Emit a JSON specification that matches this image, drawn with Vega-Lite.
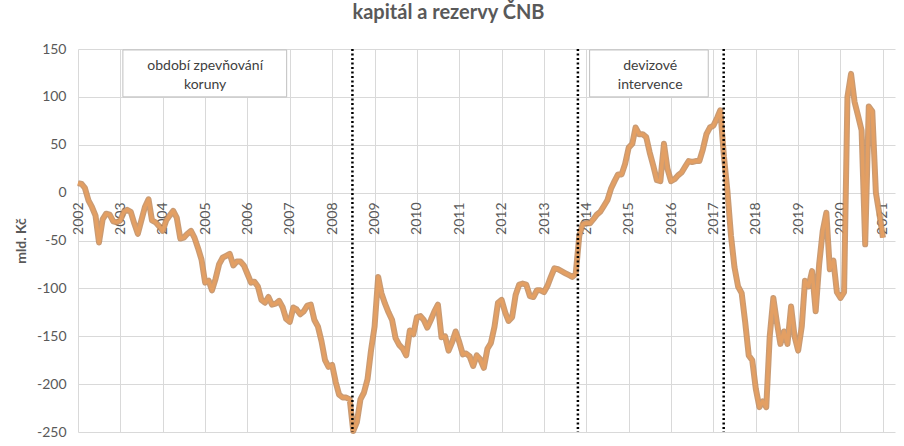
{
  "$schema": "https://vega.github.io/schema/vega-lite/v6.json",
  "width": 817,
  "height": 383,
  "autosize": "none",
  "padding": {"left": 78, "top": 49, "right": 9, "bottom": 14},
  "background": "white",
  "config": {"view": {"stroke": null}, "font": "Lato"},
  "title": {"text": "kapitál a rezervy ČNB", "font": "Lato", "fontSize": 20, "fontWeight": "bold", "color": "#595959", "anchor": "middle", "dx": -38, "offset": 19},
  "datasets": {
    "series": [
      {"d":"2002-01-01","v":10},{"d":"2002-02-01","v":9},{"d":"2002-03-01","v":5},{"d":"2002-04-01","v":-8},{"d":"2002-05-01","v":-15},{"d":"2002-06-01","v":-24},{"d":"2002-07-01","v":-52},{"d":"2002-08-01","v":-28},{"d":"2002-09-01","v":-22},{"d":"2002-10-01","v":-23},{"d":"2002-11-01","v":-30},{"d":"2002-12-01","v":-31},
      {"d":"2003-01-01","v":-29},{"d":"2003-02-01","v":-20},{"d":"2003-03-01","v":-18},{"d":"2003-04-01","v":-20},{"d":"2003-05-01","v":-32},{"d":"2003-06-01","v":-43},{"d":"2003-07-01","v":-29},{"d":"2003-08-01","v":-15},{"d":"2003-09-01","v":-7},{"d":"2003-10-01","v":-29},{"d":"2003-11-01","v":-31},{"d":"2003-12-01","v":-35},
      {"d":"2004-01-01","v":-40},{"d":"2004-02-01","v":-29},{"d":"2004-03-01","v":-24},{"d":"2004-04-01","v":-19},{"d":"2004-05-01","v":-26},{"d":"2004-06-01","v":-48},{"d":"2004-07-01","v":-47},{"d":"2004-08-01","v":-43},{"d":"2004-09-01","v":-40},{"d":"2004-10-01","v":-47},{"d":"2004-11-01","v":-58},{"d":"2004-12-01","v":-70},
      {"d":"2005-01-01","v":-94},{"d":"2005-02-01","v":-92},{"d":"2005-03-01","v":-102},{"d":"2005-04-01","v":-90},{"d":"2005-05-01","v":-75},{"d":"2005-06-01","v":-68},{"d":"2005-07-01","v":-66},{"d":"2005-08-01","v":-64},{"d":"2005-09-01","v":-76},{"d":"2005-10-01","v":-72},{"d":"2005-11-01","v":-72},{"d":"2005-12-01","v":-76},
      {"d":"2006-01-01","v":-85},{"d":"2006-02-01","v":-94},{"d":"2006-03-01","v":-93},{"d":"2006-04-01","v":-98},{"d":"2006-05-01","v":-112},{"d":"2006-06-01","v":-115},{"d":"2006-07-01","v":-109},{"d":"2006-08-01","v":-117},{"d":"2006-09-01","v":-116},{"d":"2006-10-01","v":-113},{"d":"2006-11-01","v":-120},{"d":"2006-12-01","v":-132},
      {"d":"2007-01-01","v":-135},{"d":"2007-02-01","v":-120},{"d":"2007-03-01","v":-122},{"d":"2007-04-01","v":-127},{"d":"2007-05-01","v":-124},{"d":"2007-06-01","v":-118},{"d":"2007-07-01","v":-117},{"d":"2007-08-01","v":-133},{"d":"2007-09-01","v":-140},{"d":"2007-10-01","v":-155},{"d":"2007-11-01","v":-175},{"d":"2007-12-01","v":-182},
      {"d":"2008-01-01","v":-180},{"d":"2008-02-01","v":-198},{"d":"2008-03-01","v":-211},{"d":"2008-04-01","v":-214},{"d":"2008-05-01","v":-214},{"d":"2008-06-01","v":-216},{"d":"2008-07-01","v":-249},{"d":"2008-08-01","v":-240},{"d":"2008-09-01","v":-216},{"d":"2008-10-01","v":-209},{"d":"2008-11-01","v":-195},{"d":"2008-12-01","v":-165},
      {"d":"2009-01-01","v":-140},{"d":"2009-02-01","v":-88},{"d":"2009-03-01","v":-105},{"d":"2009-04-01","v":-116},{"d":"2009-05-01","v":-125},{"d":"2009-06-01","v":-133},{"d":"2009-07-01","v":-152},{"d":"2009-08-01","v":-159},{"d":"2009-09-01","v":-163},{"d":"2009-10-01","v":-170},{"d":"2009-11-01","v":-144},{"d":"2009-12-01","v":-148},
      {"d":"2010-01-01","v":-130},{"d":"2010-02-01","v":-129},{"d":"2010-03-01","v":-133},{"d":"2010-04-01","v":-141},{"d":"2010-05-01","v":-133},{"d":"2010-06-01","v":-124},{"d":"2010-07-01","v":-117},{"d":"2010-08-01","v":-151},{"d":"2010-09-01","v":-150},{"d":"2010-10-01","v":-165},{"d":"2010-11-01","v":-156},{"d":"2010-12-01","v":-145},
      {"d":"2011-01-01","v":-156},{"d":"2011-02-01","v":-169},{"d":"2011-03-01","v":-168},{"d":"2011-04-01","v":-171},{"d":"2011-05-01","v":-181},{"d":"2011-06-01","v":-170},{"d":"2011-07-01","v":-174},{"d":"2011-08-01","v":-183},{"d":"2011-09-01","v":-163},{"d":"2011-10-01","v":-157},{"d":"2011-11-01","v":-140},{"d":"2011-12-01","v":-115},
      {"d":"2012-01-01","v":-112},{"d":"2012-02-01","v":-125},{"d":"2012-03-01","v":-134},{"d":"2012-04-01","v":-130},{"d":"2012-05-01","v":-107},{"d":"2012-06-01","v":-96},{"d":"2012-07-01","v":-95},{"d":"2012-08-01","v":-96},{"d":"2012-09-01","v":-108},{"d":"2012-10-01","v":-109},{"d":"2012-11-01","v":-102},{"d":"2012-12-01","v":-102},
      {"d":"2013-01-01","v":-104},{"d":"2013-02-01","v":-97},{"d":"2013-03-01","v":-88},{"d":"2013-04-01","v":-79},{"d":"2013-05-01","v":-80},{"d":"2013-06-01","v":-82},{"d":"2013-07-01","v":-84},{"d":"2013-08-01","v":-86},{"d":"2013-09-01","v":-88},{"d":"2013-10-01","v":-85},{"d":"2013-11-01","v":-45},{"d":"2013-12-01","v":-33},
      {"d":"2014-01-01","v":-32},{"d":"2014-02-01","v":-32},{"d":"2014-03-01","v":-28},{"d":"2014-04-01","v":-23},{"d":"2014-05-01","v":-20},{"d":"2014-06-01","v":-14},{"d":"2014-07-01","v":-8},{"d":"2014-08-01","v":4},{"d":"2014-09-01","v":12},{"d":"2014-10-01","v":19},{"d":"2014-11-01","v":19},{"d":"2014-12-01","v":30},
      {"d":"2015-01-01","v":47},{"d":"2015-02-01","v":51},{"d":"2015-03-01","v":68},{"d":"2015-04-01","v":61},{"d":"2015-05-01","v":61},{"d":"2015-06-01","v":58},{"d":"2015-07-01","v":42},{"d":"2015-08-01","v":28},{"d":"2015-09-01","v":13},{"d":"2015-10-01","v":12},{"d":"2015-11-01","v":51},{"d":"2015-12-01","v":25},
      {"d":"2016-01-01","v":12},{"d":"2016-02-01","v":14},{"d":"2016-03-01","v":18},{"d":"2016-04-01","v":21},{"d":"2016-05-01","v":27},{"d":"2016-06-01","v":33},{"d":"2016-07-01","v":32},{"d":"2016-08-01","v":33},{"d":"2016-09-01","v":33},{"d":"2016-10-01","v":45},{"d":"2016-11-01","v":61},{"d":"2016-12-01","v":68},
      {"d":"2017-01-01","v":70},{"d":"2017-02-01","v":78},{"d":"2017-03-01","v":86},{"d":"2017-04-01","v":38},{"d":"2017-05-01","v":2},{"d":"2017-06-01","v":-45},{"d":"2017-07-01","v":-78},{"d":"2017-08-01","v":-98},{"d":"2017-09-01","v":-105},{"d":"2017-10-01","v":-135},{"d":"2017-11-01","v":-170},{"d":"2017-12-01","v":-175},
      {"d":"2018-01-01","v":-205},{"d":"2018-02-01","v":-224},{"d":"2018-03-01","v":-218},{"d":"2018-04-01","v":-224},{"d":"2018-05-01","v":-150},{"d":"2018-06-01","v":-110},{"d":"2018-07-01","v":-135},{"d":"2018-08-01","v":-158},{"d":"2018-09-01","v":-145},{"d":"2018-10-01","v":-158},{"d":"2018-11-01","v":-119},{"d":"2018-12-01","v":-150},
      {"d":"2019-01-01","v":-165},{"d":"2019-02-01","v":-140},{"d":"2019-03-01","v":-92},{"d":"2019-04-01","v":-98},{"d":"2019-05-01","v":-82},{"d":"2019-06-01","v":-124},{"d":"2019-07-01","v":-75},{"d":"2019-08-01","v":-40},{"d":"2019-09-01","v":-21},{"d":"2019-10-01","v":-80},{"d":"2019-11-01","v":-71},{"d":"2019-12-01","v":-104},
      {"d":"2020-01-01","v":-110},{"d":"2020-02-01","v":-104},{"d":"2020-03-01","v":100},{"d":"2020-04-01","v":124},{"d":"2020-05-01","v":95},{"d":"2020-06-01","v":80},{"d":"2020-07-01","v":65},{"d":"2020-08-01","v":-54},{"d":"2020-09-01","v":90},{"d":"2020-10-01","v":85},{"d":"2020-11-01","v":0},{"d":"2020-12-01","v":-22},
      {"d":"2021-01-01","v":-47}
    ],
    "events": [{"d":"2008-06-24"},{"d":"2013-10-20"},{"d":"2017-03-30"}],
    "boxes": [
      {"d1":"2003-01-23","d2":"2006-12-05","y1":100,"y2":149},
      {"d1":"2014-01-29","d2":"2016-11-17","y1":100,"y2":149}
    ],
    "labels": [
      {"d":"2005-01-01","y":132.5,"t":"období zpevňování"},
      {"d":"2005-01-01","y":112.8,"t":"koruny"},
      {"d":"2015-07-05","y":132.5,"t":"devizové"},
      {"d":"2015-07-05","y":112.8,"t":"intervence"}
    ]
  },
  "layer": [
    {
      "data": {"name": "series"},
      "mark": {"type": "line", "stroke": "#C08A5C", "strokeWidth": 6, "strokeJoin": "round", "opacity": 0.85},
      "encoding": {
        "x": {"field": "d", "type": "temporal",
          "scale": {"type": "utc", "domain": [{"year": 2002, "month": 1, "date": 1, "utc": true}, {"year": 2021, "month": 4, "date": 15, "utc": true}]},
          "axis": {"title": null, "orient": "bottom", "offset": -240, "format": "%Y", "tickCount": {"interval": "year", "step": 1},
            "labelAngle": -90, "labelAlign": "right", "labelBaseline": "middle", "labelPadding": 10, "labelFont": "Lato", "labelFontSize": 14, "labelColor": "#595959",
            "labelOverlap": false, "labelFlush": false, "labelBound": false, "ticks": false, "domain": false,
            "grid": true, "gridColor": "#D9D9D9", "gridWidth": 1}},
        "y": {"field": "v", "type": "quantitative",
          "scale": {"domain": [-250, 150], "nice": false, "zero": false},
          "axis": {"title": "mld. Kč", "titleFont": "Lato", "titleFontSize": 14, "titleFontWeight": "bold", "titleColor": "#595959", "titlePadding": 8,
            "values": [-250, -200, -150, -100, -50, 0, 50, 100, 150], "labelExpr": "replace(datum.label, '\u2212', '-')",
            "labelFont": "Lato", "labelFontSize": 14, "labelColor": "#595959", "labelPadding": 12,
            "ticks": false, "domain": false, "grid": true, "gridColor": "#D9D9D9", "gridWidth": 1}}
      }
    },
    {
      "data": {"name": "series"},
      "mark": {"type": "line", "stroke": "#E39F63", "strokeWidth": 3.5, "strokeJoin": "round"},
      "encoding": {"x": {"field": "d", "type": "temporal"}, "y": {"field": "v", "type": "quantitative"}}
    },
    {
      "data": {"name": "events"},
      "mark": {"type": "rule", "stroke": "#000000", "strokeWidth": 2.5, "strokeDash": [2, 2.5]},
      "encoding": {"x": {"field": "d", "type": "temporal"}}
    },
    {
      "data": {"name": "boxes"},
      "mark": {"type": "rect", "fill": "white", "stroke": "#BFBFBF", "strokeWidth": 1},
      "encoding": {
        "x": {"field": "d1", "type": "temporal"}, "x2": {"field": "d2"},
        "y": {"field": "y1", "type": "quantitative"}, "y2": {"field": "y2"}
      }
    },
    {
      "data": {"name": "labels"},
      "mark": {"type": "text", "font": "Lato", "fontSize": 14, "color": "#404040", "align": "center", "baseline": "middle"},
      "encoding": {
        "x": {"field": "d", "type": "temporal"},
        "y": {"field": "y", "type": "quantitative"},
        "text": {"field": "t"}
      }
    }
  ]
}
